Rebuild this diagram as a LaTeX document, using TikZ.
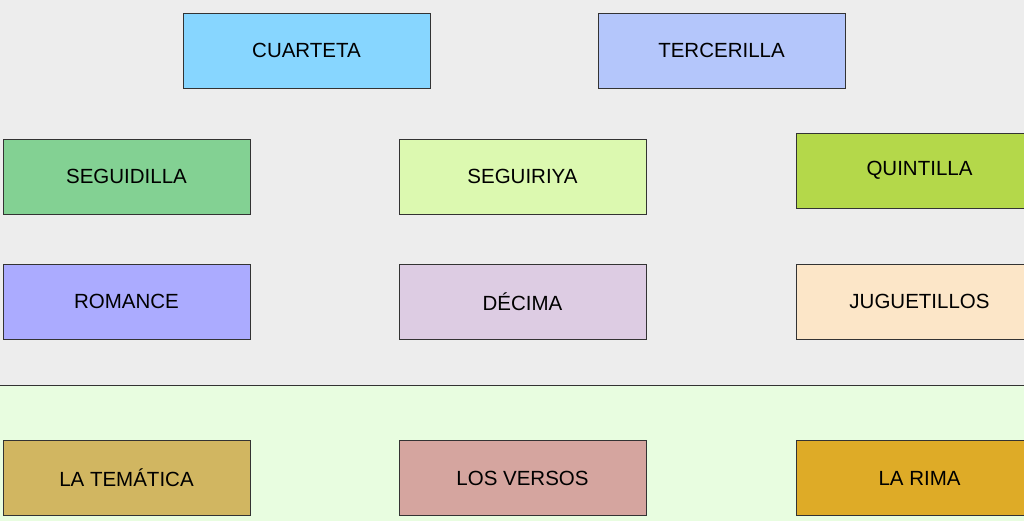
\documentclass[tikz,border=0pt]{standalone}
\usepackage{fontspec}
\setmainfont{Liberation Sans}
\definecolor{bgtop}{HTML}{EDEDED}
\definecolor{bgbot}{HTML}{E8FDE0}
\definecolor{cA}{HTML}{87D6FF}
\definecolor{cB}{HTML}{B4C6FB}
\definecolor{cC}{HTML}{83D193}
\definecolor{cD}{HTML}{DCF9B0}
\definecolor{cE}{HTML}{B4D84A}
\definecolor{cF}{HTML}{ABABFF}
\definecolor{cG}{HTML}{DDCCE3}
\definecolor{cH}{HTML}{FCE6C8}
\definecolor{cI}{HTML}{D1B661}
\definecolor{cJ}{HTML}{D5A59F}
\definecolor{cK}{HTML}{DEAB27}
\tikzset{box/.style={draw=black!80,line width=0.8pt,minimum width=247pt,minimum height=75pt,inner sep=0pt,font=\fontsize{20.5}{24}\selectfont}}
\begin{document}
\begin{tikzpicture}[x=1pt,y=-1pt]
\useasboundingbox (0,0) rectangle (1024,521);
\clip (0,0) rectangle (1024,521);
\fill[bgtop] (0,0) rectangle (1024,385);
\fill[bgbot] (0,385) rectangle (1024,521);
\draw[line width=0.8pt,black!80] (0,385) -- (1024,385);
\node[box,fill=cA] (cuarteta) at (306.5,50.5) {CUARTETA};
\node[box,fill=cB] (tercerilla) at (721.5,50.5) {TERCERILLA};
\node[box,fill=cC] (seguidilla) at (126.5,176.5) {SEGUIDILLA};
\node[box,fill=cD] (seguiriya) at (522.5,176.5) {SEGUIRIYA};
\node[box,fill=cE] (quintilla) at (919.5,170.5) {QUINTILLA};
\node[box,fill=cF] (romance) at (126.5,301.5) {ROMANCE};
\node[box,fill=cG] (decima) at (522.5,301.5) {DÉCIMA};
\node[box,fill=cH] (juguetillos) at (919.5,301.5) {JUGUETILLOS};
\node[box,fill=cI] (tematica) at (126.5,478) {LA TEMÁTICA};
\node[box,fill=cJ] (versos) at (522.5,478) {LOS VERSOS};
\node[box,fill=cK] (rima) at (919.5,478) {LA RIMA};
\end{tikzpicture}
\end{document}
